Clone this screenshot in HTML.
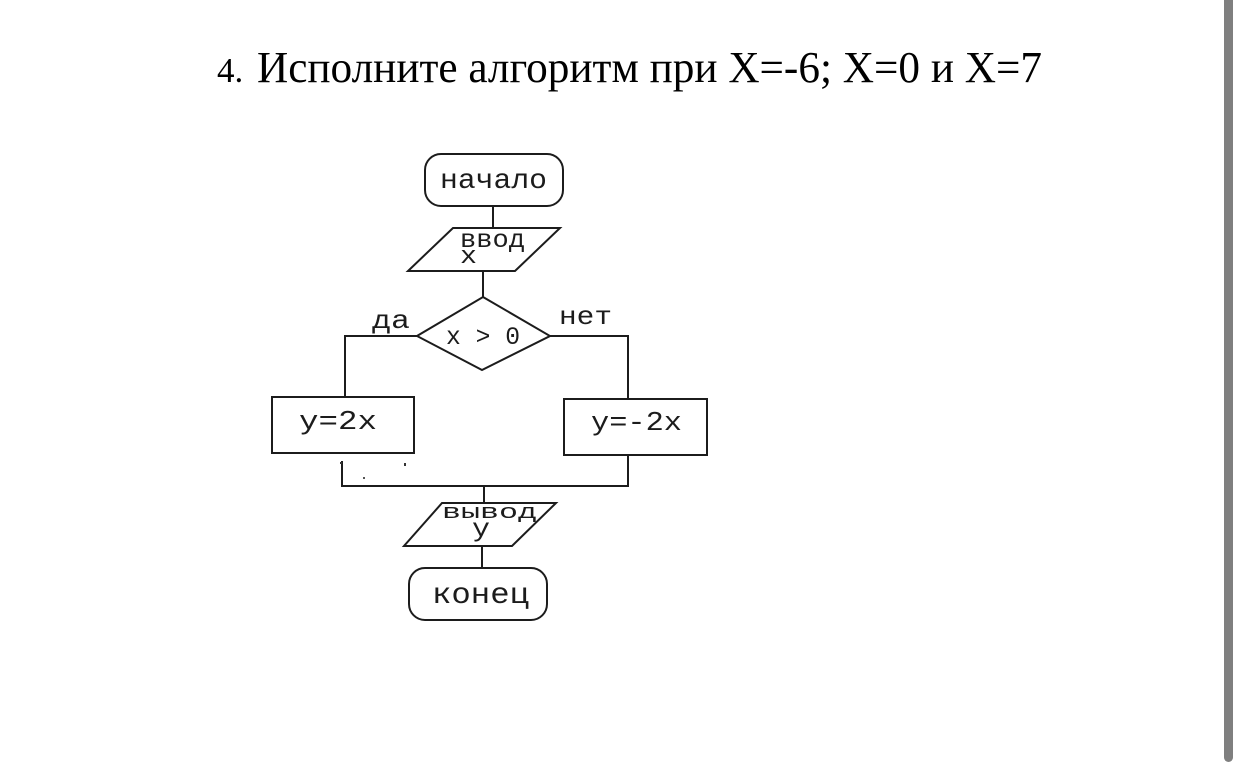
<!DOCTYPE html>
<html>
<head>
<meta charset="utf-8">
<style>
html,body{margin:0;padding:0;background:#fff;}
svg{display:block;}
</style>
</head>
<body>
<svg width="1242" height="773" viewBox="0 0 1242 773" xmlns="http://www.w3.org/2000/svg">
<rect x="0" y="0" width="1242" height="773" fill="#ffffff"/>
<!-- scrollbar -->
<rect x="1224" y="-10" width="9" height="772" rx="4.5" fill="#7f7f7f"/>

<!-- title -->
<text x="217" y="82" font-family="Liberation Serif, serif" font-size="35" fill="#000">4.</text>
<text x="257" y="82" font-family="Liberation Serif, serif" font-size="44" fill="#000" textLength="785" lengthAdjust="spacingAndGlyphs">Исполните алгоритм при X=-6; X=0 и X=7</text>

<g fill="none" stroke="#1c1c1c" stroke-width="2">
  <!-- start -->
  <rect x="425" y="154" width="138" height="52" rx="16"/>
  <line x1="493" y1="206" x2="493" y2="228"/>
  <!-- input -->
  <polygon points="453,228 560,228 515,271 408,271"/>
  <line x1="483" y1="271" x2="483" y2="297"/>
  <!-- decision -->
  <polygon points="483,297 550,336 482,370 417,336"/>
  <polyline points="417,336 345,336 345,397"/>
  <polyline points="550,336 628,336 628,399"/>
  <!-- boxes -->
  <rect x="272" y="397" width="142" height="56"/>
  <rect x="564" y="399" width="143" height="56"/>
  <!-- merge -->
  <polyline points="342,461 342,486 628,486 628,455"/>
  <line x1="484" y1="486" x2="484" y2="503"/>
  <!-- output -->
  <polygon points="442,503 556,503 512,546 404,546"/>
  <line x1="482" y1="546" x2="482" y2="568"/>
  <!-- end -->
  <rect x="409" y="568" width="138" height="52" rx="16"/>
</g>
<!-- specks -->
<rect x="340" y="462" width="2" height="2" fill="#333"/>
<rect x="404" y="463" width="2" height="3" fill="#333"/>
<rect x="363" y="477" width="2" height="2" fill="#555"/>

<g font-family="Liberation Mono, monospace" fill="#1c1c1c">
  <text x="440" y="188" font-size="28" textLength="107" lengthAdjust="spacingAndGlyphs">начало</text>
  <text x="460" y="247" font-size="25" textLength="65" lengthAdjust="spacingAndGlyphs">ввод</text>
  <text x="460" y="263" font-size="24" textLength="17" lengthAdjust="spacingAndGlyphs">x</text>
  <text x="446" y="344" font-size="25" textLength="74" lengthAdjust="spacingAndGlyphs">x &gt; 0</text>
  <text x="372" y="328" font-size="26" textLength="38" lengthAdjust="spacingAndGlyphs">да</text>
  <text x="559" y="324" font-size="26" textLength="53" lengthAdjust="spacingAndGlyphs">нет</text>
  <text x="299" y="429" font-size="27" textLength="78" lengthAdjust="spacingAndGlyphs">y=2x</text>
  <text x="591" y="430" font-size="27" textLength="91" lengthAdjust="spacingAndGlyphs">y=-2x</text>
  <text x="442" y="518" font-size="20" textLength="95" lengthAdjust="spacingAndGlyphs">вывод</text>
  <text x="472" y="536" font-size="26" textLength="18" lengthAdjust="spacingAndGlyphs">y</text>
  <text x="432" y="603" font-size="30" textLength="97" lengthAdjust="spacingAndGlyphs">конец</text>
</g>
</svg>
</body>
</html>
